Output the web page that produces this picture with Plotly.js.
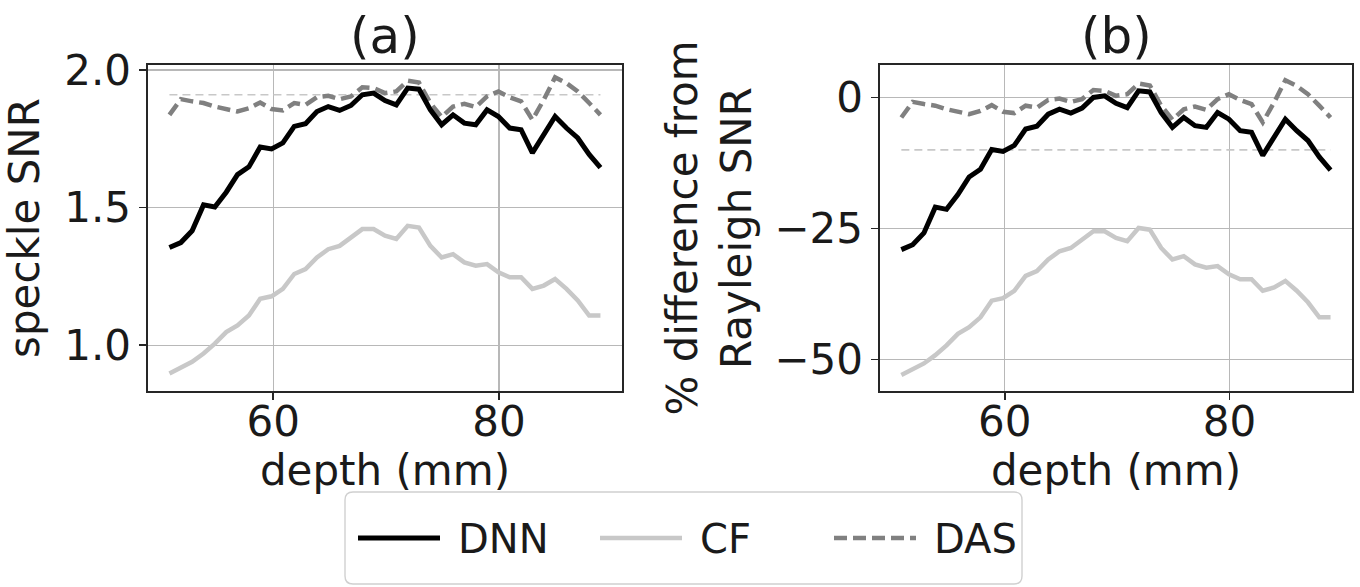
<!DOCTYPE html>
<html><head><meta charset="utf-8">
<script src="https://cdn.plot.ly/plotly-3.0.1.min.js"></script>
<style>html,body{margin:0;padding:0;background:#fff}#chart{width:1360px;height:587px}</style>
</head><body><div id="chart"></div>
<script>
// depth samples (mm)
const depth = [50.80,51.81,52.81,53.82,54.82,55.83,56.83,57.84,58.84,59.85,
  60.85,61.86,62.86,63.87,64.87,65.88,66.88,67.89,68.89,69.90,
  70.90,71.91,72.91,73.92,74.92,75.93,76.93,77.94,78.94,79.95,
  80.95,81.96,82.96,83.97,84.97,85.98,86.98,87.99,88.99];

// (a) speckle SNR
const dnnSNR = [1.355,1.373,1.416,1.510,1.502,1.556,1.620,1.648,1.720,1.713,
  1.735,1.795,1.805,1.849,1.867,1.853,1.871,1.910,1.916,1.889,
  1.873,1.934,1.930,1.855,1.801,1.837,1.807,1.801,1.855,1.831,
  1.789,1.783,1.699,1.765,1.831,1.789,1.753,1.693,1.645];
const cfSNR = [0.898,0.918,0.940,0.970,1.006,1.048,1.072,1.108,1.169,1.178,
  1.205,1.259,1.277,1.319,1.349,1.361,1.392,1.422,1.422,1.398,
  1.386,1.434,1.428,1.361,1.319,1.331,1.301,1.289,1.295,1.265,
  1.247,1.247,1.205,1.217,1.241,1.205,1.163,1.108,1.108];
const dasSNR = [1.837,1.894,1.886,1.880,1.867,1.858,1.849,1.861,1.882,1.858,
  1.853,1.880,1.873,1.901,1.906,1.894,1.904,1.937,1.934,1.916,
  1.922,1.961,1.954,1.880,1.829,1.867,1.877,1.865,1.904,1.922,
  1.901,1.886,1.819,1.892,1.973,1.952,1.922,1.880,1.837];
const rayleighSNR = [1.91, 1.91];

// (b) % difference from Rayleigh SNR
const dnnPct = [-29.06,-28.12,-25.86,-20.94,-21.36,-18.53,-15.18,-13.72,-9.95,-10.31,
  -9.16,-6.02,-5.50,-3.19,-2.25,-2.98,-2.04,0.00,0.31,-1.10,
  -1.94,1.26,1.05,-2.88,-5.71,-3.82,-5.39,-5.71,-2.88,-4.14,
  -6.34,-6.65,-11.05,-7.59,-4.14,-6.34,-8.22,-11.36,-13.87];
const cfPct = [-52.98,-51.94,-50.79,-49.21,-47.33,-45.13,-43.87,-41.99,-38.80,-38.33,
  -36.91,-34.08,-33.14,-30.94,-29.37,-28.74,-27.12,-25.55,-25.55,-26.81,
  -27.43,-24.92,-25.24,-28.74,-30.94,-30.31,-31.88,-32.51,-32.20,-33.77,
  -34.71,-34.71,-36.91,-36.28,-35.03,-36.91,-39.11,-41.99,-41.99];
const dasPct = [-3.82,-0.84,-1.26,-1.57,-2.25,-2.72,-3.19,-2.57,-1.47,-2.72,
  -2.98,-1.57,-1.94,-0.47,-0.21,-0.84,-0.31,1.41,1.26,0.31,
  0.63,2.67,2.30,-1.57,-4.24,-2.25,-1.73,-2.36,-0.31,0.63,
  -0.47,-1.26,-4.76,-0.94,3.30,2.20,0.63,-1.57,-3.82];
const thresholdPct = [-10, -10];

const refDepth = [depth[0], depth[depth.length - 1]];
const seriesNames = ['DNN', 'CF', 'DAS'];
const panelTitles = ['(a)', '(b)'];
const yTicksA = [1.0, 1.5, 2.0];
const yTicksB = [-50, -25, 0];
const xTicks = [60, 80];

const styles = {
  DNN: {color: '#000000', width: 5, dash: 'solid'},
  CF:  {color: '#c8c8c8', width: 4.5, dash: 'solid'},
  DAS: {color: '#808080', width: 4.5, dash: '13px,6px'}
};
const refStyle = {color: '#c8c8c8', width: 1.6, dash: '8px,5px'};

function tr(y, name, xa, ya) {
  return {x: depth, y: y, mode: 'lines', name: name, xaxis: xa, yaxis: ya,
    line: styles[name], showlegend: false, hoverinfo: 'skip'};
}
const traces = [
  {x: refDepth, y: rayleighSNR, mode: 'lines', line: refStyle, xaxis: 'x', yaxis: 'y', showlegend: false, hoverinfo: 'skip'},
  {x: refDepth, y: thresholdPct, mode: 'lines', line: refStyle, xaxis: 'x2', yaxis: 'y2', showlegend: false, hoverinfo: 'skip'},
  tr(cfSNR, 'CF', 'x', 'y'), tr(dasSNR, 'DAS', 'x', 'y'), tr(dnnSNR, 'DNN', 'x', 'y'),
  tr(cfPct, 'CF', 'x2', 'y2'), tr(dasPct, 'DAS', 'x2', 'y2'), tr(dnnPct, 'DNN', 'x2', 'y2')
];

const W = 1360, H = 587;
const px = v => v / W, py = v => 1 - v / H;
const FONT = 'DejaVu Sans';
const FS = 42;

const axisCommon = {
  showline: true, mirror: true, linecolor: '#262626', linewidth: 1.6,
  showgrid: true, gridcolor: '#b8b8b8', gridwidth: 1.3, zeroline: false,
  ticks: 'outside', ticklen: 7, tickwidth: 1.6, tickcolor: '#262626',
  tickfont: {family: FONT, size: FS, color: '#1a1a1a'}, automargin: false
};
const yDomain = [py(391), py(65)];

const layout = {
  width: W, height: H, margin: {l: 0, r: 0, t: 0, b: 0},
  paper_bgcolor: '#ffffff', plot_bgcolor: '#ffffff',
  font: {family: FONT, size: FS, color: '#1a1a1a'},
  showlegend: false,
  xaxis: Object.assign({}, axisCommon, {domain: [px(148), px(622)], range: [48.9, 90.9], tickvals: xTicks,
    ticklabelstandoff: -14,
    title: {text: 'depth (mm)', font: {family: FONT, size: FS}, standoff: 0}}),
  yaxis: Object.assign({}, axisCommon, {domain: yDomain, range: [0.834, 2.018], tickvals: yTicksA, tickformat: '.1f',
    title: {text: 'speckle SNR', font: {family: FONT, size: FS}, standoff: 16}}),
  xaxis2: Object.assign({}, axisCommon, {domain: [px(880), px(1352)], range: [48.9, 90.9], tickvals: xTicks, anchor: 'y2',
    ticklabelstandoff: -14,
    title: {text: 'depth (mm)', font: {family: FONT, size: FS}, standoff: 0}}),
  yaxis2: Object.assign({}, axisCommon, {domain: yDomain, range: [-56.05, 6.2], tickvals: yTicksB, anchor: 'x2',
    title: {text: '% difference from<br>Rayleigh SNR', font: {family: FONT, size: FS}, standoff: 9}}),
  annotations: [],
  shapes: []
};

// panel titles
[[148, 622], [880, 1352]].forEach((d, i) => {
  layout.annotations.push({xref: 'paper', yref: 'paper', x: px((d[0] + d[1]) / 2), y: py(36),
    xanchor: 'center', yanchor: 'middle', showarrow: false, text: panelTitles[i],
    font: {family: FONT, size: 50, color: '#1a1a1a'}});
});

// legend (drawn manually to match the long line samples)
const LFS = 40;
const leg = {left: 345, right: 1022, top: 492, bottom: 584, r: 8};
const lp = (x, y) => `${px(x)},${py(y)}`;
layout.shapes.push({type: 'path', xref: 'paper', yref: 'paper',
  path: `M${lp(leg.left + leg.r, leg.top)} L${lp(leg.right - leg.r, leg.top)} Q${lp(leg.right, leg.top)} ${lp(leg.right, leg.top + leg.r)} ` +
        `L${lp(leg.right, leg.bottom - leg.r)} Q${lp(leg.right, leg.bottom)} ${lp(leg.right - leg.r, leg.bottom)} ` +
        `L${lp(leg.left + leg.r, leg.bottom)} Q${lp(leg.left, leg.bottom)} ${lp(leg.left, leg.bottom - leg.r)} ` +
        `L${lp(leg.left, leg.top + leg.r)} Q${lp(leg.left, leg.top)} ${lp(leg.left + leg.r, leg.top)} Z`,
  line: {color: '#d0d0d0', width: 1.4}, fillcolor: 'rgba(255,255,255,0.8)', layer: 'above'});
const legY = (leg.top + leg.bottom) / 2;
const legItems = [{name: 'DNN', x0: 358}, {name: 'CF', x0: 600}, {name: 'DAS', x0: 834}];
legItems.forEach(it => {
  const s = styles[it.name];
  layout.shapes.push({type: 'line', xref: 'paper', yref: 'paper', x0: px(it.x0), x1: px(it.x0 + 82), y0: py(legY), y1: py(legY),
    line: {color: s.color, width: s.width, dash: s.dash}, layer: 'above'});
  layout.annotations.push({xref: 'paper', yref: 'paper', x: px(it.x0 + 98), y: py(legY + 1), xanchor: 'left', yanchor: 'middle',
    showarrow: false, text: it.name, font: {family: FONT, size: LFS, color: '#1a1a1a'}});
});

Plotly.newPlot('chart', traces, layout, {staticPlot: true, displayModeBar: false});
</script></body></html>
